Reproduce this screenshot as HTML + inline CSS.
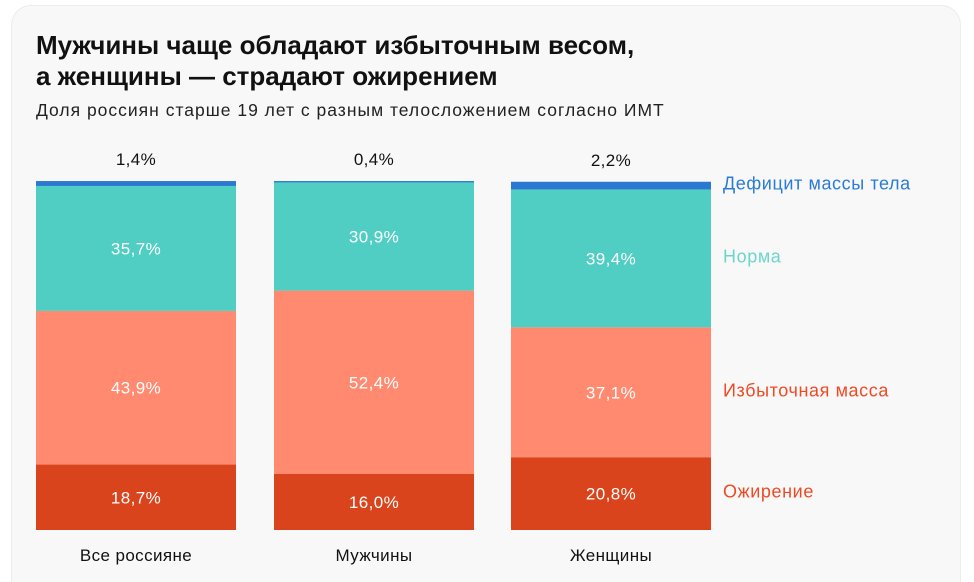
<!DOCTYPE html>
<html style="overflow:hidden;height:581px"><head><meta charset="utf-8"><style>
html,body{margin:0;background:#fff;width:974px;height:581px;overflow:hidden;font-family:"Liberation Sans",sans-serif;}
.card{position:absolute;left:11px;top:5px;width:948px;height:576px;background:#f8f8f8;border:1px solid #ececec;border-bottom:none;border-radius:20px 20px 0 0;}
.t{position:absolute;left:36px;color:#111;}
</style></head><body>
<div class="card"></div>
<div class="t" style="top:30px;font-size:26px;font-weight:bold;line-height:31px;letter-spacing:0px">Мужчины чаще обладают избыточным весом,<br>а женщины — страдают ожирением</div>
<div class="t" style="top:100px;font-size:17.5px;letter-spacing:1px;color:#222">Доля россиян старше 19 лет с разным телосложением согласно ИМТ</div>
<svg id="c" width="974" height="581" style="position:absolute;left:0;top:0"></svg>
<script>
const categories=["Все россияне","Мужчины","Женщины"];
const obese=[18.7,16.0,20.8];
const overweight=[43.9,52.4,37.1];
const normal=[35.7,30.9,39.4];
const deficit=[1.4,0.4,2.2];
const seriesNames=["Ожирение","Избыточная масса","Норма","Дефицит массы тела"];
const svg=document.getElementById('c');
const NS='http://www.w3.org/2000/svg';
const base=530,scale=3.5,barW=200,x0=[36,274,511];
const y=v=>v*scale;
const fills=["#d9441c","#ff8a70","#50cec4","#2a78d0"];
const names=["obese","overweight","normal","deficit"];
const series=[obese,overweight,normal,deficit];
const fmt=v=>v.toFixed(1).replace('.',',')+'%';
function txt(x,yy,s,size,col,anchor){const t=document.createElementNS(NS,'text');t.setAttribute('x',x);t.setAttribute('y',yy);t.setAttribute('font-size',size);t.setAttribute('fill',col);t.setAttribute('text-anchor',anchor||'middle');t.setAttribute('font-family','Liberation Sans, sans-serif');t.setAttribute('letter-spacing','0.4');t.textContent=s;svg.appendChild(t);return t;}
let legendY=[];
categories.forEach((c,i)=>{
  let cur=base;
  series.forEach((s,k)=>{
    const h=y(s[i]);cur-=h;
    const r=document.createElementNS(NS,'rect');
    r.setAttribute('x',x0[i]);r.setAttribute('y',cur);r.setAttribute('width',barW);r.setAttribute('height',h);r.setAttribute('fill',fills[k]);
    
    
    svg.appendChild(r);
    if(k<3){const t=txt(x0[i]+barW/2,cur+h/2+6,fmt(s[i]),17,'#fff');
      
      }
    else{const t=txt(x0[i]+barW/2,cur-16,fmt(s[i]),17,'#111');
      
      }
    if(i==2) legendY[k]=cur+h/2;
  });
  const l=txt(x0[i]+barW/2,base+31,c,17,'#111');
  
  
});
const legCol=["#ee4a22","#f04a23","#6dd6cc","#2a7bd4"];
seriesNames.forEach((n,k)=>{
  const t=txt(723,legendY[k]+4,n,18,legCol[k],'start');
  t.setAttribute('letter-spacing','0.6');
  
  
});
</script>
</body></html>
